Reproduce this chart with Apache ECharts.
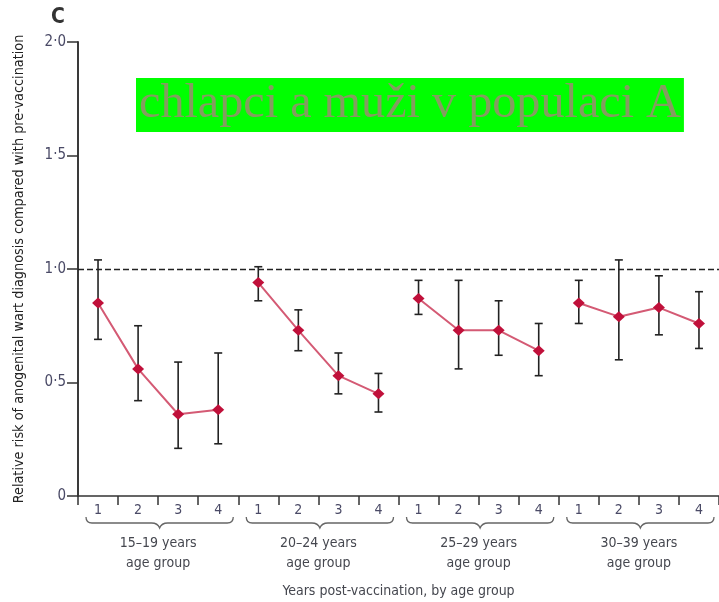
<!DOCTYPE html>
<html>
<head>
<meta charset="utf-8">
<script src="https://cdn.jsdelivr.net/npm/echarts@6/dist/echarts.min.js"></script>
<style>
  html, body { margin: 0; padding: 0; background: #fff; }
  #chart { width: 719px; height: 602px; }
</style>
</head>
<body>
<div id="chart"></div>
<script>
// years after vaccination, repeated for each age group
const years = ['1', '2', '3', '4'];
const ageGroups = ['15–19 years', '20–24 years', '25–29 years', '30–39 years'];
const yTicks = [0, 0.5, 1, 1.5, 2];

// relative risk, with lower / upper 95% CI, per age group
const rr15 = [0.85, 0.56, 0.36, 0.38];
const lo15 = [0.69, 0.42, 0.21, 0.23];
const hi15 = [1.04, 0.75, 0.59, 0.63];

const rr20 = [0.94, 0.73, 0.53, 0.45];
const lo20 = [0.86, 0.64, 0.45, 0.37];
const hi20 = [1.01, 0.82, 0.63, 0.54];

const rr25 = [0.87, 0.73, 0.73, 0.64];
const lo25 = [0.80, 0.56, 0.62, 0.53];
const hi25 = [0.95, 0.95, 0.86, 0.76];

const rr30 = [0.85, 0.79, 0.83, 0.76];
const lo30 = [0.76, 0.60, 0.71, 0.65];
const hi30 = [0.95, 1.04, 0.97, 0.90];

const rrAll = [rr15, rr20, rr25, rr30];
const loAll = [lo15, lo20, lo25, lo30];
const hiAll = [hi15, hi20, hi25, hi30];

const font = "'Liberation Sans Narrow', 'DejaVu Sans Condensed', sans-serif";
const labelColor = '#45474f';

// x categories: 1..4 for every age group
const categories = [];
ageGroups.forEach(() => years.forEach(y => categories.push(y)));

const lineSeries = rrAll.map((rr, g) => ({
  type: 'line',
  z: 3,
  data: rr.map((v, i) => [g * years.length + i, v]),
  symbol: 'diamond',
  symbolSize: [12, 11],
  itemStyle: { color: '#c0103a' },
  lineStyle: { color: '#d45a74', width: 2 },
  markLine: g === 0 ? {
    silent: true,
    symbol: 'none',
    label: { show: false },
    lineStyle: { color: '#222', type: [6, 3], width: 1.4 },
    data: [{ yAxis: 1 }]
  } : undefined
}));

const errData = [];
rrAll.forEach((rr, g) => rr.forEach((v, i) => {
  errData.push([g * years.length + i, loAll[g][i], hiAll[g][i]]);
}));

const errSeries = {
  type: 'custom',
  z: 2,
  data: errData,
  renderItem: function (params, api) {
    const x = api.value(0);
    const lo = api.coord([x, api.value(1)]);
    const hi = api.coord([x, api.value(2)]);
    const cap = 4;
    const style = { stroke: '#222', lineWidth: 1.6 };
    return {
      type: 'group',
      children: [
        { type: 'line', shape: { x1: lo[0], y1: lo[1], x2: hi[0], y2: hi[1] }, style: style },
        { type: 'line', shape: { x1: lo[0] - cap, y1: lo[1], x2: lo[0] + cap, y2: lo[1] }, style: style },
        { type: 'line', shape: { x1: hi[0] - cap, y1: hi[1], x2: hi[0] + cap, y2: hi[1] }, style: style }
      ]
    };
  }
};

// curly braces under each age group
const braceSeries = {
  type: 'custom',
  clip: false,
  silent: true,
  data: ageGroups.map((_, g) => [g]),
  renderItem: function (params, api) {
    const g = api.value(0);
    const bw = api.size([1, 0])[0];
    const a = api.coord([g * years.length, 0]);
    const b = api.coord([g * years.length + years.length - 1, 0]);
    const x0 = a[0] - bw / 2 + 8;
    const x1 = b[0] + bw / 2 - 5;
    const xm = (x0 + x1) / 2;
    const top = a[1] + 21;
    const y = top + 6;
    const tip = y + 5;
    const d = 'M' + x0 + ',' + top +
      ' Q' + x0 + ',' + y + ' ' + (x0 + 6) + ',' + y +
      ' L' + (xm - 8) + ',' + y +
      ' Q' + (xm - 2) + ',' + y + ' ' + xm + ',' + tip +
      ' Q' + (xm + 2) + ',' + y + ' ' + (xm + 8) + ',' + y +
      ' L' + (x1 - 6) + ',' + y +
      ' Q' + x1 + ',' + y + ' ' + x1 + ',' + top;
    return {
      type: 'path',
      shape: { pathData: d },
      style: { fill: null, stroke: '#666', lineWidth: 1.3 }
    };
  }
};

const chart = echarts.init(document.getElementById('chart'));

chart.setOption({
  animation: false,
  title: [
    {
      text: 'C',
      left: 51,
      top: 7,
      padding: 0,
      textStyle: { fontFamily: font, fontSize: 21, fontWeight: 'bold', color: '#333' }
    },
    {
      text: 'chlapci a muži v populaci A',
      left: 136,
      top: 78,
      padding: [1, 3, 3, 3],
      backgroundColor: '#00ff00',
      textStyle: { fontFamily: "'Liberation Serif', 'DejaVu Serif', serif", fontSize: 48.2, lineHeight: 50, fontWeight: 'normal', color: '#849d60' }
    }
  ],
  grid: { left: 78, right: 0, top: 42, bottom: 106, outerBoundsMode: 'none', containLabel: false },
  xAxis: [
    {
      type: 'category',
      data: categories,
      boundaryGap: true,
      axisLine: { lineStyle: { color: '#333', width: 1.5 } },
      axisTick: { show: true, interval: 0, length: 9, lineStyle: { color: '#333', width: 1.5 } },
      axisLabel: { interval: 0, margin: 7, fontFamily: font, fontSize: 14, color: '#4a4a66' }
    },
    {
      type: 'category',
      data: ageGroups,
      position: 'bottom',
      axisLine: { show: false },
      axisTick: { show: false },
      axisLabel: {
        interval: 0, margin: 37, fontFamily: font, fontSize: 14, lineHeight: 20, color: labelColor,
        formatter: v => v + '\nage group'
      },
      name: 'Years post-vaccination, by age group',
      nameLocation: 'middle',
      nameGap: 88,
      nameTextStyle: { fontFamily: font, fontSize: 14, color: labelColor }
    }
  ],
  yAxis: {
    type: 'value',
    min: yTicks[0],
    max: yTicks[yTicks.length - 1],
    interval: 0.5,
    splitLine: { show: false },
    axisLine: { show: true, lineStyle: { color: '#3a3a3a', width: 2 } },
    axisTick: { show: true, length: 11, lineStyle: { color: '#333', width: 1.5 } },
    axisLabel: {
      margin: 12, fontFamily: font, fontSize: 15, color: '#4a4a66',
      formatter: v => v === 0 ? '0' : v.toFixed(1).replace('.', '·')
    },
    name: 'Relative risk of anogenital wart diagnosis compared with pre-vaccination',
    nameLocation: 'middle',
    nameGap: 52,
    nameTextStyle: { fontFamily: font, fontSize: 14.3, color: '#222' }
  },
  series: [errSeries].concat(lineSeries).concat([braceSeries])
});
</script>
</body>
</html>
